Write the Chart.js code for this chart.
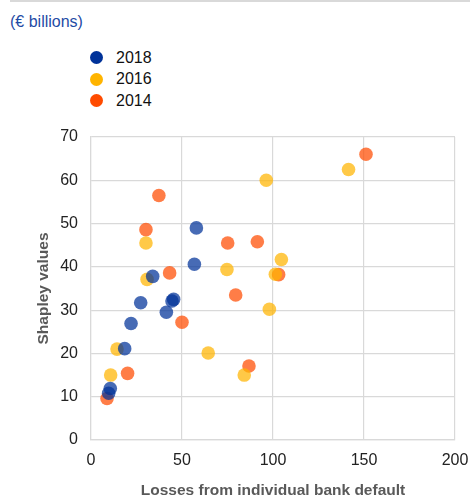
<!DOCTYPE html>
<html>
<head>
<meta charset="utf-8">
<script src="https://cdn.jsdelivr.net/npm/chart.js@4"></script>
<style>
  html, body { margin: 0; padding: 0; background: #fff; }
  #wrap { position: relative; width: 470px; height: 498px; font-family: "Liberation Sans", Arial, sans-serif; }
  #topline { position: absolute; left: 10px; top: 0; width: 460px; height: 2px; background: #d9d9d9; }
  #unit { position: absolute; left: 10px; top: 13px; font-size: 16px; color: #1f4ba5; }
  #legend { position: absolute; left: 90px; top: 47px; }
  .item { height: 21.5px; display: flex; align-items: center; font-size: 16px; color: #111; }
  .dot { width: 13px; height: 13px; border-radius: 50%; margin-right: 13px; }
  canvas { position: absolute; left: 0; top: 0; }
</style>
</head>
<body>
<div id="wrap">
  <div id="topline"></div>
  <div id="unit">(€ billions)</div>
  <div id="legend"></div>
  <canvas id="chartScatter" width="470" height="498"></canvas>
</div>
<script>
// Losses from individual bank default (x) vs. Shapley values (y), € billions
const seriesNames = ['2018', '2016', '2014'];
const seriesColors = ['#003299', '#ffb400', '#ff4b00'];

const losses2018 = [9.7, 10.6, 18.5, 22.0, 27.3, 33.9, 41.4, 44.5, 45.4, 56.8, 57.9];
const shapley2018 = [10.8, 11.9, 21.1, 26.9, 31.7, 37.8, 29.5, 32.1, 32.5, 40.6, 49.0];

const losses2016 = [10.8, 14.3, 30.2, 30.8, 64.4, 74.7, 84.2, 96.3, 98.0, 101.3, 104.6, 141.5];
const shapley2016 = [15.0, 21.0, 45.5, 37.1, 20.1, 39.4, 15.0, 60.0, 30.2, 38.3, 41.7, 62.5];

const losses2014 = [8.8, 20.1, 30.2, 37.3, 43.2, 50.0, 75.1, 79.5, 86.8, 91.4, 103.1, 151.1];
const shapley2014 = [9.6, 15.4, 48.6, 56.5, 38.6, 27.2, 45.5, 33.5, 17.1, 45.8, 38.2, 66.0];

const xTicks = [0, 50, 100, 150, 200];
const yTicks = [0, 10, 20, 30, 40, 50, 60, 70];

const lossesAll = [losses2018, losses2016, losses2014];
const shapleyAll = [shapley2018, shapley2016, shapley2014];

function alpha(hex, a) {
  const n = parseInt(hex.slice(1), 16);
  return `rgba(${(n >> 16) & 255}, ${(n >> 8) & 255}, ${n & 255}, ${a})`;
}

const datasets = seriesNames.map((name, i) => ({
  label: name,
  data: lossesAll[i].map((x, j) => ({ x: x, y: shapleyAll[i][j] })),
  backgroundColor: alpha(seriesColors[i], 0.72),
  borderWidth: 0,
  pointRadius: 6.8,
  pointHoverRadius: 6.8,
}));

// legend built by hand so it stacks vertically above the plot
const legendEl = document.getElementById('legend');
seriesNames.forEach((name, i) => {
  const row = document.createElement('div');
  row.className = 'item';
  row.innerHTML = `<span class="dot" style="background:${seriesColors[i]}"></span>${name}`;
  legendEl.appendChild(row);
});

const gridColor = '#d9d9d9';

const configScatter = {
  type: 'scatter',
  data: { datasets },
  options: {
    responsive: false,
    animation: false,
    layout: { padding: { left: 0, right: 15, top: 137, bottom: 0 } },
    plugins: {
      legend: { display: false },
      tooltip: { enabled: false },
    },
    scales: {
      x: {
        type: 'linear',
        min: 0,
        max: 200,
        afterBuildTicks: (scale) => { scale.ticks = xTicks.map(v => ({ value: v })); },
        afterFit: (scale) => {
          scale.height = 58;
          // let the layout padding alone decide the plot's right edge
          scale.paddingLeft = 0;
          scale.paddingRight = 0;
        },
        grid: { color: gridColor, lineWidth: 1.2, drawTicks: false },
        border: { color: gridColor, width: 1.2 },
        ticks: { padding: 11, color: '#222', font: { family: 'Liberation Sans', size: 16 } },
        title: {
          display: true,
          text: 'Losses from individual bank default',
          color: '#595959',
          padding: { top: 0, bottom: 0 },
          font: { family: 'Liberation Sans', size: 15.5, weight: 'bold', lineHeight: 1 },
        },
      },
      y: {
        type: 'linear',
        min: 0,
        max: 70,
        afterBuildTicks: (scale) => { scale.ticks = yTicks.map(v => ({ value: v })); },
        afterFit: (scale) => {
          scale.width = 91;
          scale.paddingTop = 0;
          scale.paddingBottom = 0;
        },
        grid: { color: gridColor, lineWidth: 1.2, drawTicks: false },
        border: { color: gridColor, width: 1.2 },
        ticks: { padding: 13, color: '#222', font: { family: 'Liberation Sans', size: 16 } },
        title: {
          display: true,
          text: 'Shapley values',
          color: '#595959',
          padding: { top: 36, bottom: 0 },
          font: { family: 'Liberation Sans', size: 15.5, weight: 'bold', lineHeight: 1 },
        },
      },
    },
  },
};

const chartScatter = new Chart(document.getElementById('chartScatter'), configScatter);
</script>
</body>
</html>
